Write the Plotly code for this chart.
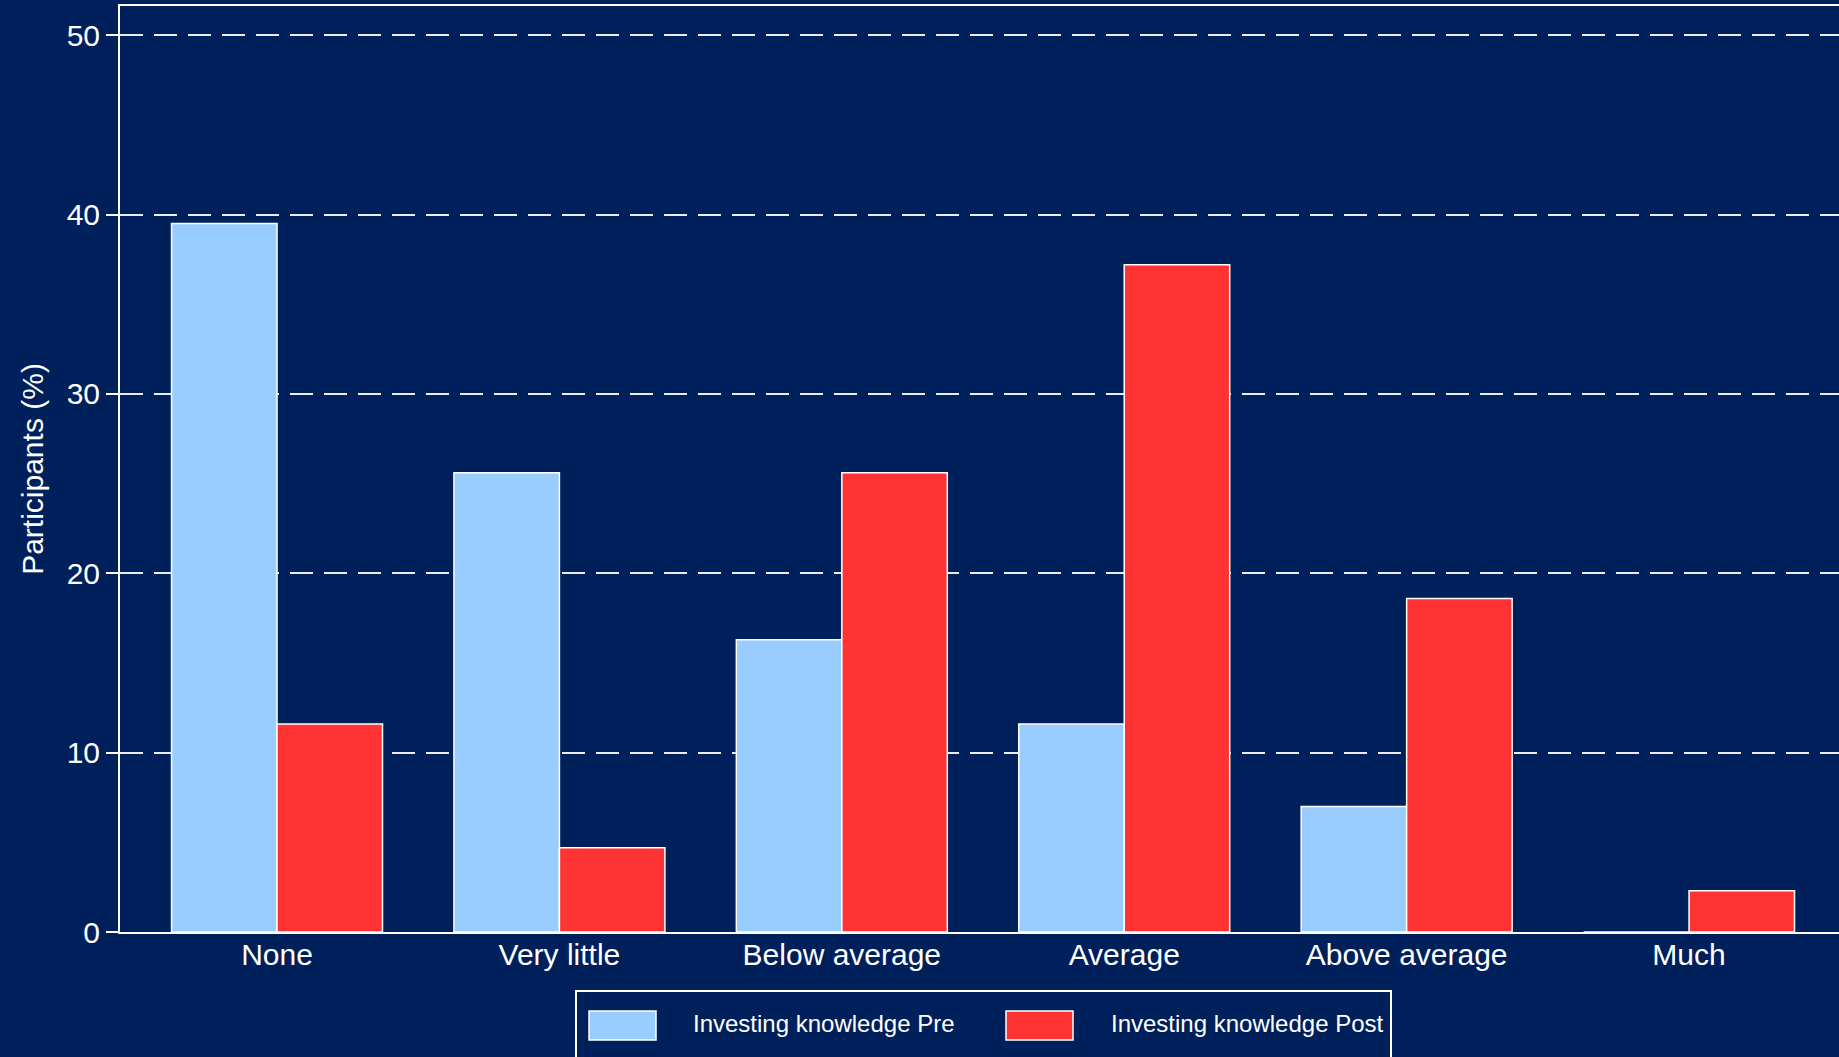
import plotly.graph_objects as go

categories = ["None", "Very little", "Below average", "Average", "Above average", "Much"]
pre_values = [39.5, 25.6, 16.3, 11.6, 7.0, 0.0]
post_values = [11.6, 4.7, 25.6, 37.2, 18.6, 2.3]
series_names = ["Investing knowledge Pre", "Investing knowledge Post"]
y_ticks = [0, 10, 20, 30, 40, 50]

BG = "#00205B"
PRE_COLOR = "#99CCFF"
POST_COLOR = "#FF3333"
FONT = "Arial, Liberation Sans, sans-serif"

W, H = 1839, 1057
L, R, T, B = 120, 0, 6, 125
pw, ph = W - L - R, H - T - B

def px(x):
    return (x - L) / pw

def py(y):
    return (H - B - y) / ph

x_idx = list(range(len(categories)))

fig = go.Figure()
fig.add_trace(go.Bar(x=x_idx, y=pre_values, name=series_names[0],
                     marker=dict(color=PRE_COLOR, line=dict(color="white", width=1.5)),
                     showlegend=False))
fig.add_trace(go.Bar(x=x_idx, y=post_values, name=series_names[1],
                     marker=dict(color=POST_COLOR, line=dict(color="white", width=1.5)),
                     showlegend=False))

fig.update_layout(
    width=W, height=H,
    margin=dict(l=L, r=R, t=T, b=B, autoexpand=False),
    paper_bgcolor=BG, plot_bgcolor=BG,
    barmode="group", bargap=0.253, bargroupgap=0.0,
    font=dict(family=FONT, color="white", size=30),
    showlegend=False,
)

fig.update_xaxes(
    range=[-0.556, 5.531],
    tickmode="array", tickvals=x_idx, ticktext=categories,
    showgrid=False, zeroline=False,
    showline=True, linecolor="white", linewidth=2, mirror=True,
    ticks="", ticklabelstandoff=-5, tickfont=dict(size=30, color="white"),
)
fig.update_yaxes(
    range=[0, 51.63],
    tickmode="array", tickvals=y_ticks,
    showgrid=True, gridcolor="rgba(255,255,255,0.92)", gridwidth=2.3, griddash="23px,11px",
    zeroline=False,
    showline=True, linecolor="white", linewidth=2,
    ticks="outside", ticklen=12, tickwidth=2, tickcolor="white",
    ticklabelstandoff=0,
    tickfont=dict(size=30, color="white"),
    title=dict(text="Participants (%)", font=dict(size=30, color="white"), standoff=14),
)

# Legend box drawn below the plot
shapes = [
    dict(type="rect", xref="paper", yref="paper",
         x0=px(576), x1=px(1391), y0=py(1080), y1=py(991),
         line=dict(color="white", width=2), fillcolor=BG, layer="above"),
    dict(type="rect", xref="paper", yref="paper",
         x0=px(589), x1=px(656), y0=py(1040), y1=py(1011),
         line=dict(color="white", width=1.5), fillcolor=PRE_COLOR, layer="above"),
    dict(type="rect", xref="paper", yref="paper",
         x0=px(1006), x1=px(1073), y0=py(1040), y1=py(1011),
         line=dict(color="white", width=1.5), fillcolor=POST_COLOR, layer="above"),
]
fig.update_layout(shapes=shapes)
fig.add_annotation(xref="paper", yref="paper", x=px(691), y=py(1024),
                   text=series_names[0], showarrow=False, xanchor="left", yanchor="middle",
                   font=dict(size=24, color="white", family=FONT))
fig.add_annotation(xref="paper", yref="paper", x=px(1109), y=py(1024),
                   text=series_names[1], showarrow=False, xanchor="left", yanchor="middle",
                   font=dict(size=24, color="white", family=FONT))

fig.write_html(
    "out.html",
    config={"displayModeBar": False},
    post_script="document.body.style.margin='0';document.body.style.background='%s';" % BG,
)
